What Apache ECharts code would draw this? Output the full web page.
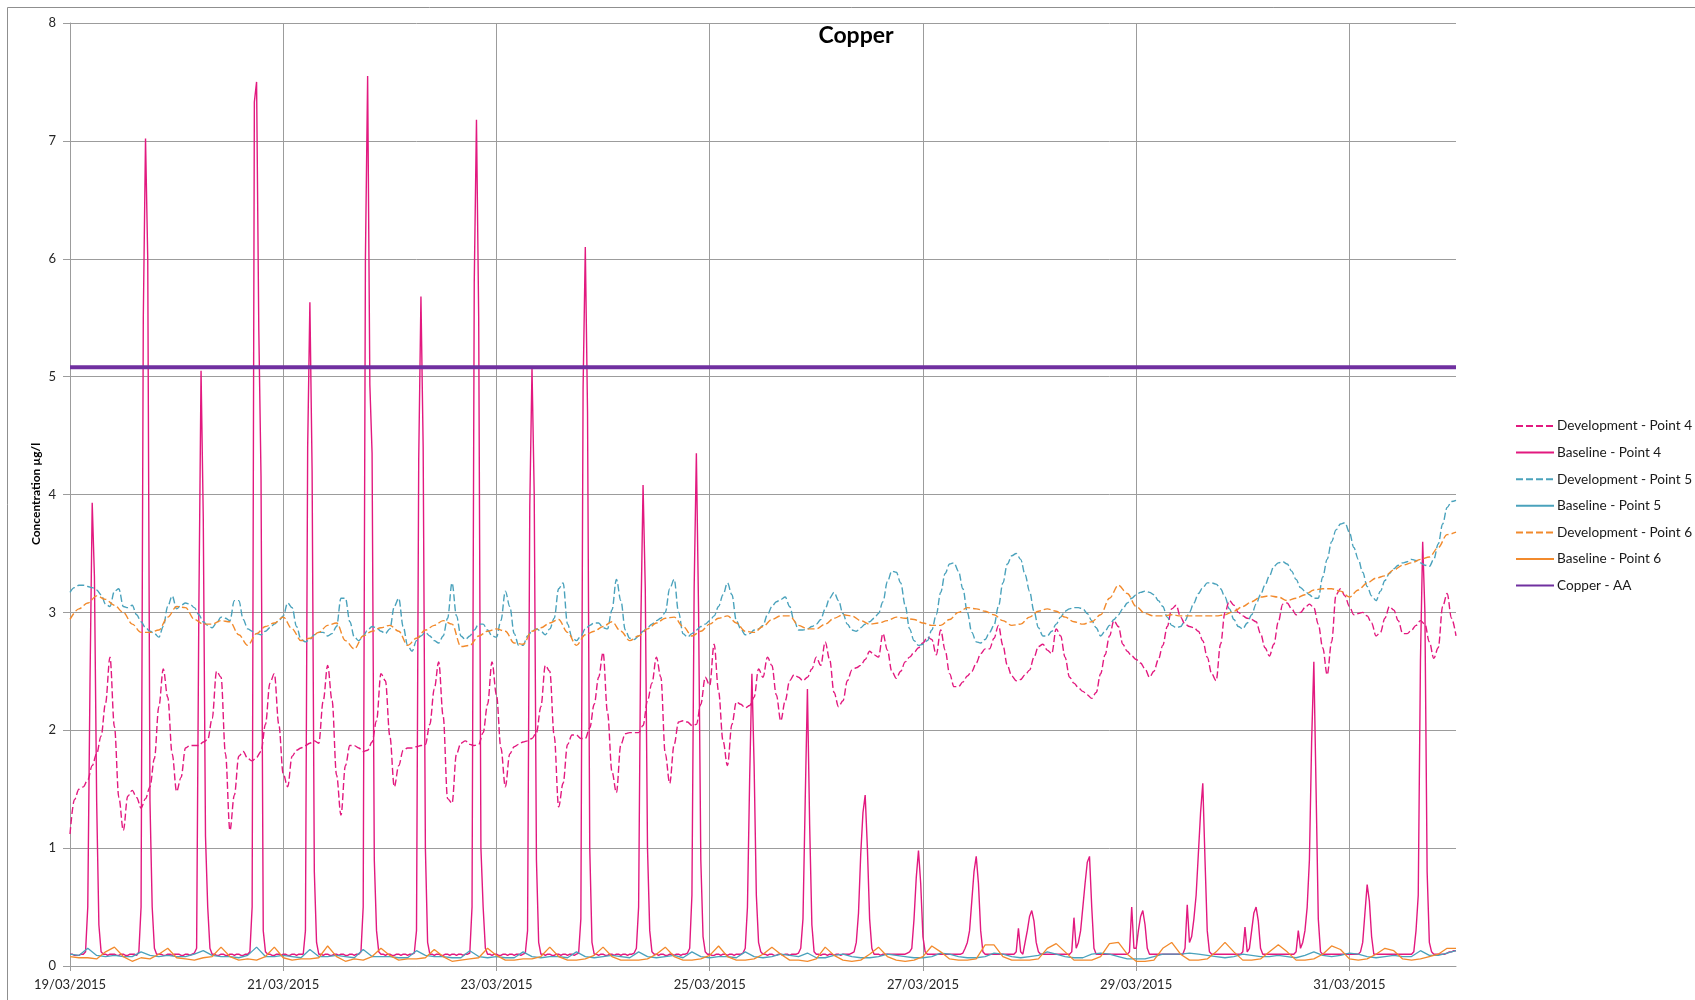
<!DOCTYPE html>
<html>
<head>
<meta charset="utf-8">
<title>Copper</title>
<script src="https://cdn.jsdelivr.net/npm/echarts@6/dist/echarts.min.js"></script>
<style>
  html, body { margin: 0; padding: 0; background: #ffffff; }
  #chart { width: 1695px; height: 1000px; }
</style>
</head>
<body>
<div id="chart"></div>
<script>
// Copper concentrations (µg/l), 19/03/2015 00:00 to 01/04/2015 00:00.
// x values are hours from the start; each array lists readings at a fixed step.

const dateLabels = ['19/03/2015', '21/03/2015', '23/03/2015', '25/03/2015', '27/03/2015', '29/03/2015', '31/03/2015'];

const seriesNames = [
  'Development - Point 4', 'Baseline - Point 4',
  'Development - Point 5', 'Baseline - Point 5',
  'Development - Point 6', 'Baseline - Point 6',
  'Copper - AA'
];

// Development - Point 4 (hourly, one row per day)
const devPoint4 = [
  1.12,1.41,1.50,1.52,1.58,1.70,1.80,1.95,2.23,2.62,2.03,1.43,1.15,1.44,1.49,1.43,1.34,1.42,1.52,1.76,2.20,2.52,2.28,1.80,
  1.48,1.60,1.85,1.87,1.87,1.87,1.90,1.92,2.10,2.50,2.45,1.80,1.15,1.45,1.78,1.82,1.76,1.74,1.77,1.82,2.05,2.40,2.48,2.05,
  1.63,1.52,1.78,1.83,1.85,1.87,1.89,1.91,1.89,2.25,2.55,2.25,1.62,1.28,1.70,1.87,1.87,1.85,1.82,1.83,1.90,2.08,2.48,2.42,
  1.95,1.52,1.70,1.83,1.85,1.85,1.86,1.87,1.88,2.05,2.35,2.58,2.12,1.42,1.38,1.80,1.89,1.91,1.88,1.87,1.88,1.98,2.22,2.58,
  2.30,1.85,1.52,1.80,1.86,1.88,1.90,1.91,1.93,1.98,2.20,2.55,2.50,1.95,1.35,1.55,1.88,1.96,1.96,1.93,1.93,2.02,2.22,2.45,
  2.66,2.15,1.65,1.47,1.88,1.97,1.98,1.98,1.98,2.04,2.25,2.40,2.62,2.45,1.80,1.55,1.88,2.07,2.08,2.07,2.04,2.05,2.22,2.45,
  2.38,2.73,2.33,1.91,1.70,2.05,2.24,2.22,2.19,2.21,2.28,2.52,2.45,2.62,2.55,2.30,2.08,2.25,2.42,2.47,2.45,2.42,2.45,2.52,
  2.62,2.55,2.75,2.60,2.32,2.20,2.25,2.42,2.51,2.53,2.55,2.60,2.67,2.64,2.62,2.82,2.68,2.50,2.44,2.50,2.58,2.62,2.66,2.70,
  2.74,2.79,2.77,2.64,2.85,2.68,2.48,2.37,2.37,2.41,2.46,2.50,2.57,2.65,2.69,2.69,2.78,2.89,2.72,2.55,2.46,2.42,2.43,2.47,
  2.51,2.62,2.71,2.73,2.68,2.65,2.86,2.80,2.62,2.45,2.40,2.36,2.33,2.30,2.27,2.32,2.48,2.64,2.80,2.93,2.88,2.73,2.67,2.63,
  2.60,2.57,2.52,2.45,2.50,2.60,2.72,2.88,3.03,3.06,2.96,2.90,2.88,2.87,2.84,2.76,2.62,2.48,2.42,2.73,3.00,3.10,3.06,3.00,
  2.97,2.95,2.94,2.92,2.82,2.70,2.63,2.73,2.92,3.07,3.08,3.03,2.98,3.00,3.04,3.07,3.04,2.90,2.70,2.47,2.75,3.15,3.20,3.14,
  3.05,2.98,2.99,3.00,2.97,2.91,2.80,2.83,2.95,3.05,3.02,2.93,2.82,2.82,2.85,2.89,2.93,2.90,2.75,2.61,2.70,3.05,3.16,2.95,
  2.80
];

// Baseline - Point 4 (half-hourly, one row per day)
const basePoint4 = [
  0.10,0.10,0.09,0.09,0.09,0.10,0.10, 0.12,0.50,2.40,3.93,3.30,1.40,0.35,0.12,
  0.10,0.10,0.09,0.10,0.10,0.10,0.09,0.09,0.10,0.10,0.09,0.09,0.10,0.10,0.10,0.09,0.12,
  0.50,5.50,7.02,6.00,1.40,0.50,0.15, 0.10,0.10,0.10,0.09,0.09,0.10,0.10,0.09,0.10,

  0.10,0.10,0.09,0.09,0.10,0.10,0.09,0.10,0.11, 0.15,3.00,5.05,3.80,1.10,0.50,0.15,
  0.10,0.10,0.09,0.09,0.10,0.10,0.09,0.09,0.10,0.10,0.09,0.10,0.10,0.09,0.09,0.10,0.10,0.12,
  0.50,7.33,7.50,5.40,4.15,0.30,0.12, 0.10,0.10,0.09,0.09,0.10,0.10,0.09,

  0.10,0.10,0.09,0.09,0.10,0.10,0.09,0.10,0.10,0.10, 0.30,4.40,5.63,4.20,0.80,0.20,
  0.10,0.10,0.09,0.10,0.10,0.09,0.09,0.10,0.10,0.09,0.10,0.10,0.09,0.09,0.10,0.10,0.09,0.10,0.10,0.12,
  0.50,6.00,7.55,4.93,4.35,0.90,0.30,0.12, 0.10,0.10,0.09,0.10,

  0.10,0.09,0.09,0.10,0.10,0.09,0.10,0.10,0.09,0.10,0.10,0.11, 0.30,4.30,5.68,4.40,1.00,0.20,
  0.10,0.10,0.09,0.10,0.10,0.09,0.09,0.10,0.10,0.09,0.10,0.10,0.09,0.10,0.10,0.09,0.10,0.10,0.11,
  0.50,5.80,7.18,5.50,1.00,0.50,0.15, 0.10,0.10,0.09,0.10,

  0.10,0.09,0.09,0.10,0.10,0.09,0.10,0.10,0.09,0.10,0.10,0.09,0.10,0.11, 0.30,3.90,5.07,4.00,0.90,0.20,
  0.10,0.10,0.09,0.10,0.10,0.09,0.09,0.10,0.10,0.09,0.10,0.10,0.09,0.10,0.10,0.09,0.10,0.11,
  0.40,4.90,6.10,4.70,1.00,0.20, 0.10,0.10,0.09,0.10,

  0.10,0.09,0.09,0.10,0.10,0.09,0.10,0.10,0.09,0.10,0.10,0.09,0.10,0.10,0.11, 0.15,0.50,2.90,4.08,3.20,1.00,0.30,0.12,
  0.10,0.10,0.09,0.10,0.10,0.09,0.09,0.10,0.10,0.09,0.10,0.10,0.09,0.10,0.10,0.11,
  0.15,0.60,3.20,4.35,3.00,0.90,0.25,0.12, 0.10,

  0.10,0.09,0.09,0.10,0.10,0.09,0.10,0.10,0.09,0.10,0.10,0.09,0.10,0.10,0.10,0.11, 0.15,0.50,1.60,2.48,1.70,0.60,0.20,0.12,
  0.10,0.10,0.09,0.10,0.10,0.09,0.09,0.10,0.10,0.09,0.10,0.10,0.09,0.10,0.10,0.10,0.11,
  0.15,0.40,1.40,2.35,1.20,0.35,0.12,

  0.10,0.10,0.09,0.10,0.10,0.09,0.10,0.10,0.09,0.10,0.10,0.09,0.10,0.10,0.10,0.10,0.11, 0.12,0.20,0.45,0.95,1.30,1.45,1.00,0.40,0.15,
  0.10,0.10,0.10,0.09,0.10,0.10,0.10,0.10,0.10,0.10,0.10,0.10,0.10,0.10,0.10,0.11,0.12,
  0.15,0.40,0.75,0.98,0.70,

  0.25,0.12, 0.10,0.10,0.10,0.10,0.10,0.10,0.10,0.10,0.10,0.10,0.10,0.10,0.10,0.10,0.10,0.10,0.11,0.15,
  0.20,0.30,0.55,0.80,0.93,0.70,0.30,0.12,
  0.10,0.10,0.10,0.10,0.10,0.10,0.10,0.10,0.10,0.10,0.10,0.10,0.10,0.10,
  0.12,0.32,0.12, 0.10,0.20,0.30,

  0.42,0.47,0.38,0.20,0.12, 0.10,0.10,0.10,0.10,0.10,0.10,0.10,0.10,0.10,0.10,0.10,0.10,0.10,0.10,
  0.12,0.41,0.15,0.20,0.30,0.50,0.70,0.88,0.93,0.50,0.15,
  0.10,0.10,0.10,0.10,0.10,0.10,0.10,0.10,0.10,0.10,0.10,0.10,0.10,0.10,0.10,
  0.12,0.50,0.15,

  0.15,0.30,0.42,0.47,0.35,0.15,0.10, 0.10,0.10,0.10,0.10,0.10,0.10,0.10,0.10,0.10,0.10,0.10,0.10,0.10,0.10,0.10,
  0.15,0.52,0.20,0.25,0.40,0.60,0.95,1.30,1.55,0.90,0.30,0.12,
  0.10,0.10,0.10,0.10,0.10,0.10,0.10,0.10,0.10,0.10,0.10,0.10,0.10,0.10,

  0.12,0.33,0.12,0.15,0.30,0.45,0.50,0.38,0.15,0.10, 0.10,0.10,0.10,0.10,0.10,0.10,0.10,0.10,0.10,0.10,0.10,0.10,0.10,0.10,
  0.12,0.30,0.15,0.20,0.30,0.50,0.90,1.90,2.58,1.50,0.40,0.12,
  0.10,0.10,0.10,0.10,0.10,0.10,0.10,0.10,0.10,0.10,0.10,0.10,

  0.10,0.10,0.10,0.10,0.10, 0.12,0.20,0.45,0.69,0.55,0.25,0.10,
  0.10,0.10,0.10,0.10,0.10,0.10,0.10,0.10,0.10,0.10,0.10,0.10,0.10,0.10,0.10,0.10,0.10,
  0.12,0.30,0.60,2.60,3.60,3.00,0.80,0.20,0.12, 0.10,0.10,0.10,0.10,0.10,0.10,0.11,0.12,0.12,0.13,

  0.13
];

// Development - Point 5 (hourly, one row per day)
const devPoint5 = [
  3.17,3.21,3.23,3.23,3.22,3.21,3.19,3.15,3.07,3.05,3.18,3.20,3.05,3.04,3.06,2.98,2.92,2.87,2.84,2.82,2.79,2.88,3.05,3.14,
  3.03,3.06,3.08,3.07,3.04,2.98,2.92,2.89,2.87,2.91,2.96,2.95,2.93,3.10,3.10,2.94,2.86,2.84,2.82,2.81,2.84,2.87,2.90,2.93,
  2.97,3.08,3.04,2.88,2.77,2.75,2.77,2.81,2.83,2.83,2.80,2.82,2.88,3.12,3.12,2.92,2.79,2.76,2.80,2.85,2.88,2.87,2.84,2.82,
  2.86,3.05,3.12,2.88,2.72,2.67,2.76,2.80,2.83,2.80,2.76,2.74,2.80,2.95,3.25,2.97,2.80,2.77,2.80,2.85,2.90,2.90,2.85,2.80,
  2.79,2.93,3.18,3.05,2.82,2.72,2.72,2.80,2.84,2.86,2.84,2.81,2.86,2.95,3.20,3.25,2.90,2.79,2.76,2.80,2.86,2.89,2.91,2.91,
  2.87,2.86,3.02,3.28,3.10,2.85,2.78,2.77,2.80,2.84,2.87,2.90,2.93,2.95,3.00,3.20,3.28,3.00,2.82,2.79,2.82,2.85,2.88,2.90,
  2.93,2.97,3.05,3.15,3.25,3.15,2.93,2.86,2.81,2.82,2.85,2.86,2.89,2.98,3.05,3.09,3.11,3.13,3.05,2.93,2.85,2.85,2.86,2.88,
  2.90,2.94,3.03,3.12,3.17,3.10,2.99,2.90,2.85,2.84,2.87,2.90,2.92,2.95,2.99,3.09,3.26,3.35,3.34,3.25,3.06,2.86,2.76,2.72,
  2.73,2.76,2.85,2.98,3.17,3.33,3.41,3.42,3.35,3.20,3.00,2.83,2.75,2.74,2.77,2.83,2.89,3.05,3.25,3.41,3.48,3.50,3.45,3.32,
  3.18,3.01,2.87,2.80,2.80,2.84,2.90,2.96,3.01,3.03,3.04,3.04,3.03,2.99,2.93,2.87,2.80,2.84,2.89,2.94,2.98,3.03,3.08,3.12,
  3.15,3.17,3.18,3.17,3.15,3.10,3.05,2.96,2.89,2.87,2.88,2.93,3.00,3.08,3.16,3.21,3.25,3.25,3.24,3.20,3.13,3.03,2.94,2.88,
  2.86,2.91,2.98,3.07,3.15,3.23,3.31,3.39,3.42,3.43,3.41,3.35,3.28,3.21,3.18,3.15,3.12,3.12,3.30,3.45,3.60,3.70,3.75,3.76,
  3.68,3.55,3.45,3.34,3.22,3.14,3.10,3.18,3.27,3.33,3.37,3.40,3.42,3.43,3.45,3.44,3.42,3.40,3.39,3.45,3.58,3.75,3.89,3.94,
  3.95
];

// Baseline - Point 5 (two-hourly, one row per day)
const basePoint5 = [
  0.10,0.09,0.15,0.09,0.08,0.09,0.08,0.08,0.12,0.09,0.08,0.09,
  0.08,0.08,0.10,0.13,0.09,0.08,0.08,0.07,0.09,0.16,0.08,0.08,
  0.09,0.08,0.07,0.14,0.08,0.08,0.09,0.08,0.07,0.14,0.08,0.08,
  0.08,0.07,0.07,0.13,0.09,0.08,0.08,0.07,0.07,0.13,0.08,0.07,
  0.08,0.07,0.07,0.12,0.08,0.07,0.08,0.08,0.07,0.12,0.08,0.07,
  0.08,0.09,0.08,0.07,0.12,0.08,0.07,0.08,0.09,0.07,0.12,0.08,
  0.07,0.08,0.08,0.07,0.12,0.08,0.07,0.08,0.10,0.09,0.08,0.11,
  0.07,0.07,0.09,0.10,0.08,0.07,0.07,0.08,0.10,0.09,0.08,0.07,
  0.07,0.08,0.11,0.10,0.08,0.07,0.07,0.08,0.11,0.10,0.08,0.07,
  0.08,0.09,0.12,0.10,0.08,0.07,0.07,0.10,0.11,0.10,0.08,0.06,
  0.06,0.06,0.08,0.10,0.10,0.10,0.11,0.10,0.09,0.08,0.07,0.08,
  0.10,0.09,0.08,0.08,0.09,0.08,0.07,0.09,0.12,0.09,0.08,0.09,
  0.11,0.10,0.08,0.07,0.08,0.09,0.08,0.08,0.13,0.09,0.09,0.11,
  0.13
];

// Development - Point 6 (two-hourly, one row per day)
const devPoint6 = [
  2.94,3.03,3.08,3.14,3.11,3.06,3.00,2.90,2.83,2.83,2.85,2.96,
  3.05,3.04,2.94,2.90,2.90,2.93,2.92,2.81,2.72,2.82,2.88,2.91,
  2.96,2.86,2.76,2.78,2.83,2.89,2.91,2.76,2.69,2.80,2.84,2.87,
  2.89,2.84,2.72,2.78,2.85,2.89,2.93,2.90,2.71,2.72,2.80,2.84,
  2.86,2.84,2.74,2.73,2.84,2.87,2.91,2.94,2.83,2.72,2.81,2.84,
  2.88,2.92,2.84,2.76,2.80,2.86,2.91,2.95,2.96,2.88,2.80,2.84,
  2.90,2.95,2.97,2.91,2.84,2.83,2.88,2.94,2.97,2.97,2.89,2.86,
  2.86,2.90,2.95,2.98,2.97,2.93,2.90,2.91,2.93,2.96,2.95,2.94,
  2.91,2.89,2.89,2.94,3.00,3.04,3.03,3.01,2.98,2.93,2.89,2.90,
  2.96,3.01,3.03,3.01,2.96,2.92,2.90,2.92,2.98,3.12,3.23,3.16,
  3.05,2.99,2.97,2.97,2.98,2.97,2.97,2.97,2.97,2.97,2.98,3.01,
  3.05,3.09,3.13,3.14,3.13,3.10,3.12,3.15,3.19,3.20,3.20,3.18,
  3.13,3.19,3.25,3.29,3.31,3.36,3.40,3.42,3.45,3.47,3.55,3.66,
  3.68
];

// Baseline - Point 6 (two-hourly, one row per day)
const basePoint6 = [
  0.08,0.07,0.07,0.06,0.12,0.16,0.08,0.04,0.07,0.06,0.10,0.15,
  0.07,0.06,0.05,0.07,0.08,0.16,0.08,0.05,0.06,0.05,0.08,0.16,
  0.07,0.05,0.06,0.06,0.07,0.17,0.08,0.04,0.06,0.05,0.08,0.15,
  0.09,0.05,0.06,0.06,0.07,0.14,0.08,0.04,0.05,0.06,0.07,0.15,
  0.09,0.05,0.05,0.06,0.06,0.08,0.16,0.08,0.05,0.05,0.06,0.09,
  0.16,0.08,0.05,0.05,0.05,0.06,0.10,0.16,0.08,0.05,0.05,0.06,
  0.09,0.17,0.08,0.05,0.05,0.06,0.10,0.16,0.10,0.05,0.05,0.04,
  0.06,0.16,0.09,0.05,0.04,0.05,0.10,0.16,0.08,0.05,0.04,0.05,
  0.08,0.17,0.12,0.06,0.05,0.05,0.06,0.18,0.18,0.08,0.05,0.05,
  0.05,0.06,0.15,0.19,0.12,0.05,0.05,0.05,0.08,0.19,0.20,0.10,
  0.04,0.04,0.05,0.15,0.20,0.10,0.05,0.05,0.06,0.12,0.20,0.12,
  0.05,0.05,0.06,0.12,0.18,0.12,0.05,0.05,0.06,0.10,0.17,0.14,
  0.06,0.05,0.06,0.10,0.15,0.13,0.06,0.05,0.06,0.08,0.10,0.15,
  0.15
];

// Annual average environmental quality standard for copper
const copperAA = 5.08;

const HOURS_TOTAL = 312;
const stepped = (arr, step) => arr.map((v, i) => [i * step, v]);

const PINK = '#E2197F';
const TEAL = '#4AA2BC';
const ORANGE = '#F28A2C';
const PURPLE = '#7030A0';
const GRID = '#9c9c9c';
const FONT = 'Lato, "Open Sans", sans-serif';

function lineSeries(name, data, color, dashed, width, smooth) {
  return {
    name: name,
    type: 'line',
    data: data,
    symbol: 'none',
    showSymbol: false,
    smooth: smooth,
    smoothMonotone: 'x',
    lineStyle: { color: color, width: width, type: dashed ? [7, 3] : 'solid' },
    itemStyle: { color: color },
    emphasis: { disabled: true },
    animation: false
  };
}

const chart = echarts.init(document.getElementById('chart'), null, { renderer: 'canvas' });

chart.setOption({
  animation: false,
  backgroundColor: '#ffffff',
  grid: { left: 70, right: 239, top: 23, bottom: 34, containLabel: false },
  graphic: [
    {
      type: 'rect', silent: true, z: -10,
      shape: { x: 7.5, y: 7.5, width: 1700, height: 1000 },
      style: { fill: 'none', stroke: '#8f8f8f', lineWidth: 1 }
    },
    {
      type: 'text', silent: true,
      x: 856, y: 36,
      style: { text: 'Copper', align: 'center', verticalAlign: 'middle', font: 'bold 23px ' + FONT, fill: '#000000' }
    },
    {
      type: 'text', silent: true,
      x: 36, y: 494, rotation: Math.PI / 2,
      style: { text: 'Concentration µg/l', align: 'center', verticalAlign: 'middle', font: 'bold 12px ' + FONT, fill: '#000000' }
    }
  ],
  legend: {
    orient: 'vertical',
    left: 1510,
    top: 414,
    itemWidth: 38,
    itemHeight: 14,
    itemGap: 12.6,
    data: seriesNames,
    itemStyle: { opacity: 0 },
    textStyle: { fontFamily: FONT, fontSize: 13.6, color: '#1a1a1a', padding: [0, 0, 0, -2] },
    selectedMode: false
  },
  xAxis: {
    type: 'value',
    min: 0,
    max: HOURS_TOTAL,
    interval: 48,
    axisLine: { show: true, lineStyle: { color: GRID, width: 1 } },
    axisTick: { show: true, inside: false, length: 5, lineStyle: { color: GRID } },
    splitLine: { show: true, showMaxLine: false, lineStyle: { color: GRID, width: 1 } },
    axisLabel: {
      margin: 12,
      fontFamily: FONT,
      fontSize: 13,
      color: '#262626',
      showMaxLabel: false,
      formatter: v => (v % 48 === 0 ? (dateLabels[v / 48] || '') : '')
    }
  },
  yAxis: {
    type: 'value',
    min: 0,
    max: 8,
    interval: 1,
    axisLine: { show: true, lineStyle: { color: GRID, width: 1 } },
    axisTick: { show: true, inside: false, length: 7, lineStyle: { color: GRID } },
    splitLine: { show: true, lineStyle: { color: GRID, width: 1 } },
    axisLabel: { margin: 14, fontFamily: FONT, fontSize: 13, color: '#262626' }
  },
  series: [
    lineSeries(seriesNames[0], stepped(devPoint4, 1), PINK, true, 1.4, 0.35),
    lineSeries(seriesNames[1], stepped(basePoint4, 0.5), PINK, false, 1.4, 0),
    lineSeries(seriesNames[2], stepped(devPoint5, 1), TEAL, true, 1.4, 0.35),
    lineSeries(seriesNames[3], stepped(basePoint5, 2), TEAL, false, 1.3, 0),
    lineSeries(seriesNames[4], stepped(devPoint6, 2), ORANGE, true, 1.4, 0.35),
    lineSeries(seriesNames[5], stepped(basePoint6, 2), ORANGE, false, 1.3, 0),
    lineSeries(seriesNames[6], [[0, copperAA], [HOURS_TOTAL, copperAA]], PURPLE, false, 4, false)
  ]
});
</script>
</body>
</html>
